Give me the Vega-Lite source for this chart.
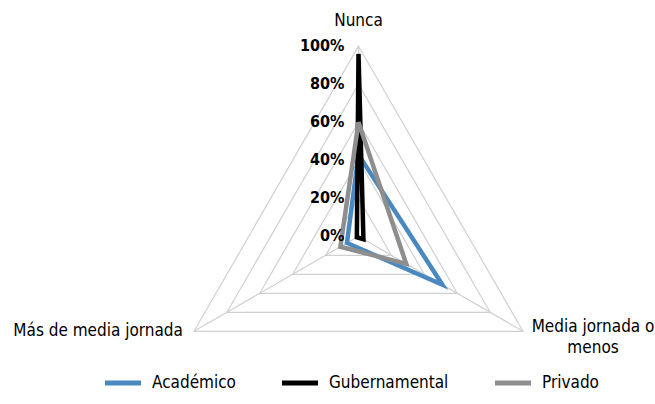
{
  "$schema": "https://vega.github.io/schema/vega-lite/v6.json",
  "width": 655,
  "height": 404,
  "autosize": "none",
  "padding": 0,
  "background": "white",
  "config": {
    "view": {"stroke": null},
    "font": "DejaVu Sans Condensed, sans-serif"
  },
  "datasets": {
    "series": [
      {"serie": "Académico", "eje": "Nunca", "orden": 0, "valor": 0.43},
      {"serie": "Académico", "eje": "Media jornada o menos", "orden": 1, "valor": 0.51},
      {"serie": "Académico", "eje": "Más de media jornada", "orden": 2, "valor": 0.07},
      {"serie": "Gubernamental", "eje": "Nunca", "orden": 0, "valor": 0.96},
      {"serie": "Gubernamental", "eje": "Media jornada o menos", "orden": 1, "valor": 0.03},
      {"serie": "Gubernamental", "eje": "Más de media jornada", "orden": 2, "valor": 0.01},
      {"serie": "Privado", "eje": "Nunca", "orden": 0, "valor": 0.60},
      {"serie": "Privado", "eje": "Media jornada o menos", "orden": 1, "valor": 0.29},
      {"serie": "Privado", "eje": "Más de media jornada", "orden": 2, "valor": 0.11}
    ],
    "ejes": [
      {"eje": "Nunca", "etiqueta": "Nunca", "orden": 0},
      {"eje": "Media jornada o menos", "etiqueta": "Media jornada o\nmenos", "orden": 1},
      {"eje": "Más de media jornada", "etiqueta": "Más de media jornada", "orden": 2}
    ],
    "grid": [
      {"nivel": 0.2, "orden": 0}, {"nivel": 0.2, "orden": 1}, {"nivel": 0.2, "orden": 2},
      {"nivel": 0.4, "orden": 0}, {"nivel": 0.4, "orden": 1}, {"nivel": 0.4, "orden": 2},
      {"nivel": 0.6, "orden": 0}, {"nivel": 0.6, "orden": 1}, {"nivel": 0.6, "orden": 2},
      {"nivel": 0.8, "orden": 0}, {"nivel": 0.8, "orden": 1}, {"nivel": 0.8, "orden": 2},
      {"nivel": 1.0, "orden": 0}, {"nivel": 1.0, "orden": 1}, {"nivel": 1.0, "orden": 2}
    ],
    "niveles": [
      {"nivel": 0}, {"nivel": 0.2}, {"nivel": 0.4}, {"nivel": 0.6}, {"nivel": 0.8}, {"nivel": 1.0}
    ]
  },
  "layer": [
    {
      "data": {"name": "grid"},
      "transform": [
        {"calculate": "datum.nivel * sin(datum.orden * 2 * PI / 3)", "as": "px"},
        {"calculate": "datum.nivel * cos(datum.orden * 2 * PI / 3)", "as": "py"}
      ],
      "mark": {"type": "line", "interpolate": "linear-closed", "stroke": "#d0d0d0", "strokeWidth": 1.2},
      "encoding": {
        "x": {"field": "px", "type": "quantitative", "axis": null, "scale": {"domain": [-1.88684, 1.56053], "nice": false, "zero": false}},
        "y": {"field": "py", "type": "quantitative", "axis": null, "scale": {"domain": [-0.88263, 1.24368], "nice": false, "zero": false}},
        "detail": {"field": "nivel", "type": "nominal"},
        "order": {"field": "orden", "type": "quantitative"}
      }
    },
    {
      "data": {"name": "ejes"},
      "transform": [
        {"calculate": "sin(datum.orden * 2 * PI / 3)", "as": "px"},
        {"calculate": "cos(datum.orden * 2 * PI / 3)", "as": "py"},
        {"calculate": "0", "as": "cx"},
        {"calculate": "0", "as": "cy"}
      ],
      "mark": {"type": "rule", "stroke": "#d0d0d0", "strokeWidth": 1.2},
      "encoding": {
        "x": {"field": "cx", "type": "quantitative", "axis": null, "scale": {"domain": [-1.88684, 1.56053], "nice": false, "zero": false}},
        "y": {"field": "cy", "type": "quantitative", "axis": null, "scale": {"domain": [-0.88263, 1.24368], "nice": false, "zero": false}},
        "x2": {"field": "px"},
        "y2": {"field": "py"}
      }
    },
    {
      "data": {"name": "series"},
      "transform": [
        {"calculate": "datum.valor * sin(datum.orden * 2 * PI / 3)", "as": "px"},
        {"calculate": "datum.valor * cos(datum.orden * 2 * PI / 3)", "as": "py"}
      ],
      "mark": {"type": "line", "interpolate": "linear-closed", "strokeWidth": 4.5, "strokeJoin": "miter"},
      "encoding": {
        "x": {"field": "px", "type": "quantitative", "axis": null, "scale": {"domain": [-1.88684, 1.56053], "nice": false, "zero": false}},
        "y": {"field": "py", "type": "quantitative", "axis": null, "scale": {"domain": [-0.88263, 1.24368], "nice": false, "zero": false}},
        "color": {
          "field": "serie",
          "type": "nominal",
          "scale": {"domain": ["Académico", "Gubernamental", "Privado"], "range": ["#4a89c0", "#000000", "#8e8e8e"]},
          "legend": {
            "title": null,
            "orient": "none",
            "legendX": 102,
            "legendY": 362,
            "direction": "horizontal",
            "symbolType": "stroke",
            "symbolSize": 1300,
            "symbolStrokeWidth": 5,
            "labelFontSize": 17,
            "labelFont": "DejaVu Sans Condensed, sans-serif",
            "labelColor": "#000000",
            "labelOffset": 8,
            "columnPadding": 35
          }
        },
        "order": {"field": "orden", "type": "quantitative"}
      }
    },
    {
      "data": {"name": "niveles"},
      "transform": [{"calculate": "0", "as": "cx"}],
      "mark": {"type": "text", "align": "right", "baseline": "middle", "dx": -14, "fontSize": 16, "fontWeight": "bold", "color": "#000000"},
      "encoding": {
        "x": {"field": "cx", "type": "quantitative", "axis": null, "scale": {"domain": [-1.88684, 1.56053], "nice": false, "zero": false}},
        "y": {"field": "nivel", "type": "quantitative", "axis": null, "scale": {"domain": [-0.88263, 1.24368], "nice": false, "zero": false}},
        "text": {"field": "nivel", "type": "quantitative", "format": ".0%"}
      }
    },
    {
      "data": {"name": "ejes"},
      "transform": [
        {"filter": "datum.orden == 0"},
        {"calculate": "sin(datum.orden * 2 * PI / 3)", "as": "px"},
        {"calculate": "cos(datum.orden * 2 * PI / 3)", "as": "py"}
      ],
      "mark": {"type": "text", "align": "center", "baseline": "alphabetic", "dy": -20, "fontSize": 17, "color": "#000000"},
      "encoding": {
        "x": {"field": "px", "type": "quantitative", "axis": null, "scale": {"domain": [-1.88684, 1.56053], "nice": false, "zero": false}},
        "y": {"field": "py", "type": "quantitative", "axis": null, "scale": {"domain": [-0.88263, 1.24368], "nice": false, "zero": false}},
        "text": {"field": "etiqueta", "type": "nominal"}
      }
    },
    {
      "data": {"name": "ejes"},
      "transform": [
        {"filter": "datum.orden == 1"},
        {"calculate": "sin(datum.orden * 2 * PI / 3)", "as": "px"},
        {"calculate": "cos(datum.orden * 2 * PI / 3)", "as": "py"}
      ],
      "mark": {"type": "text", "align": "center", "baseline": "alphabetic", "dx": 70, "dy": 1, "lineBreak": "\n", "lineHeight": 21, "fontSize": 17, "color": "#000000"},
      "encoding": {
        "x": {"field": "px", "type": "quantitative", "axis": null, "scale": {"domain": [-1.88684, 1.56053], "nice": false, "zero": false}},
        "y": {"field": "py", "type": "quantitative", "axis": null, "scale": {"domain": [-0.88263, 1.24368], "nice": false, "zero": false}},
        "text": {"field": "etiqueta", "type": "nominal"}
      }
    },
    {
      "data": {"name": "ejes"},
      "transform": [
        {"filter": "datum.orden == 2"},
        {"calculate": "sin(datum.orden * 2 * PI / 3)", "as": "px"},
        {"calculate": "cos(datum.orden * 2 * PI / 3)", "as": "py"}
      ],
      "mark": {"type": "text", "align": "right", "baseline": "middle", "dx": -11, "dy": 0, "fontSize": 17, "color": "#000000"},
      "encoding": {
        "x": {"field": "px", "type": "quantitative", "axis": null, "scale": {"domain": [-1.88684, 1.56053], "nice": false, "zero": false}},
        "y": {"field": "py", "type": "quantitative", "axis": null, "scale": {"domain": [-0.88263, 1.24368], "nice": false, "zero": false}},
        "text": {"field": "etiqueta", "type": "nominal"}
      }
    }
  ]
}
